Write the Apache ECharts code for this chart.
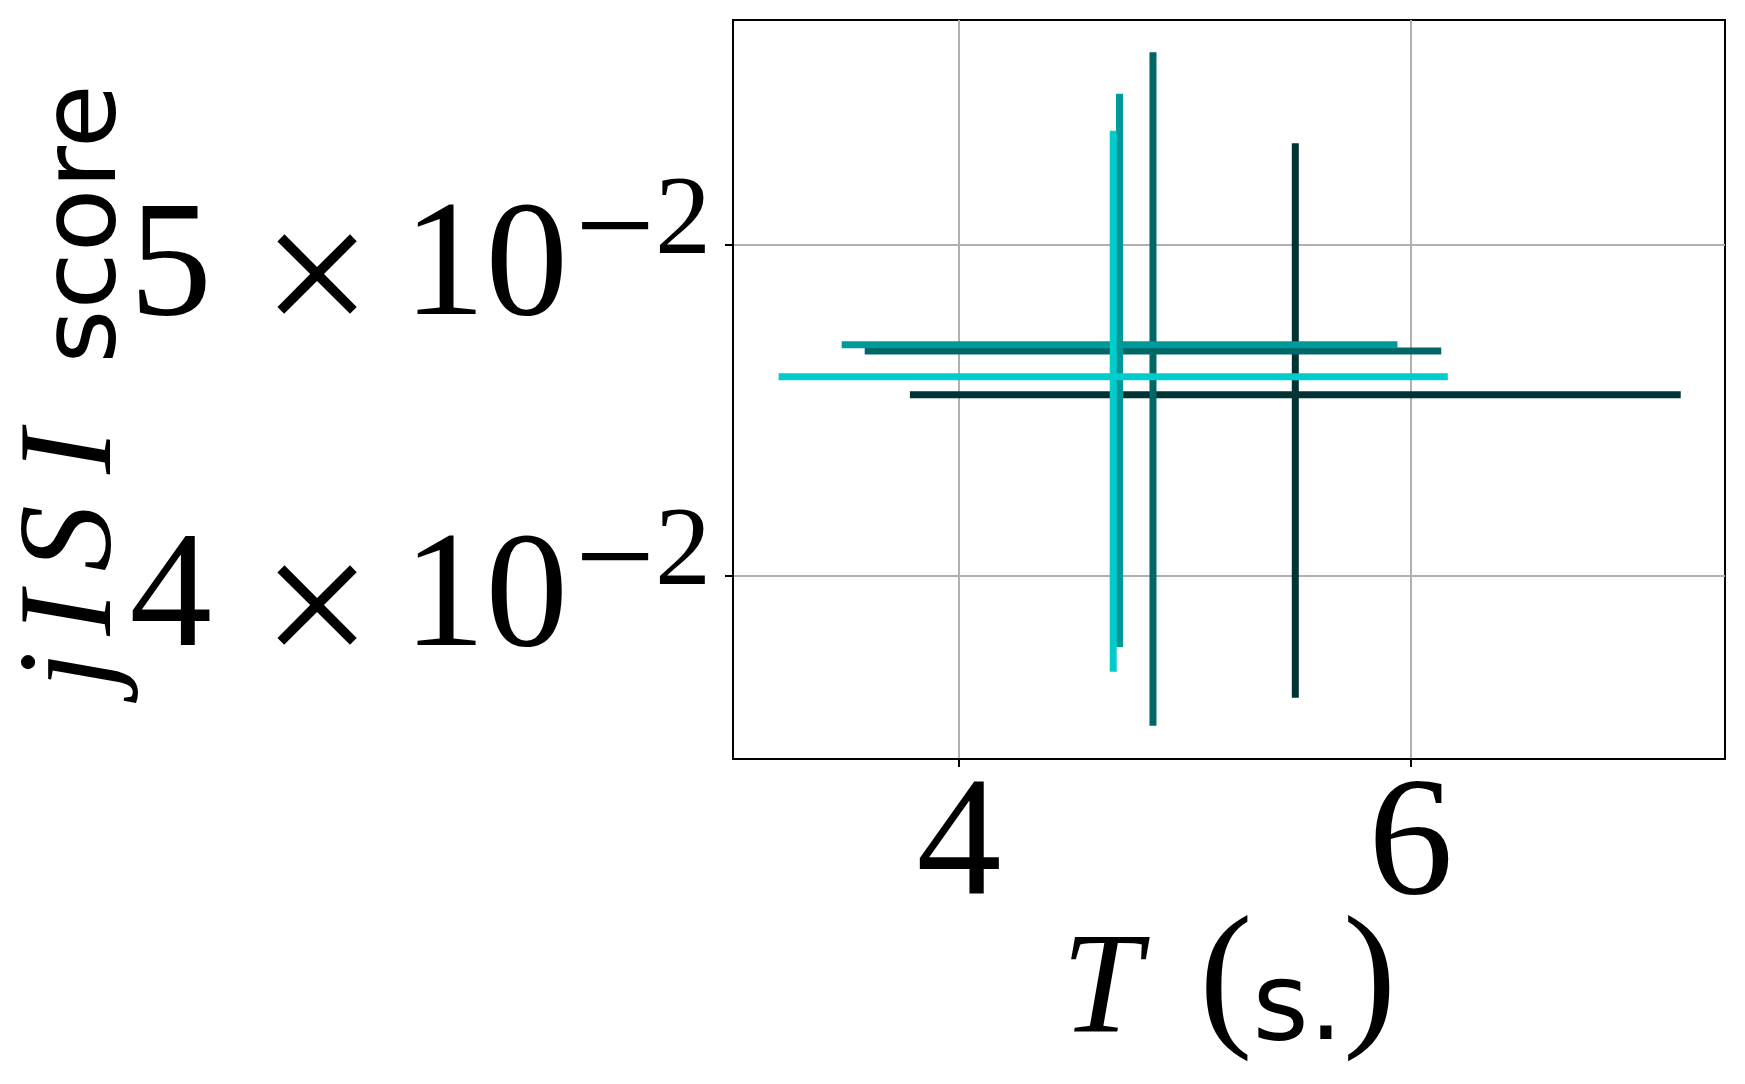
<!DOCTYPE html>
<html><head><meta charset="utf-8">
<script src="https://cdn.jsdelivr.net/npm/echarts@6/dist/echarts.min.js"></script>
<style>html,body{margin:0;padding:0;background:#fff}#c{width:1745px;height:1084px}</style>
</head><body><div id="c"></div>
<script>
// ---- data ----
const seriesNames = ['run 1', 'run 2', 'run 3', 'run 4'];
const seriesColors = ['#003333', '#006666', '#009999', '#00cccc'];
const tMeans = [5.489, 4.859, 4.711, 4.683];       // T (s.)
const tErrs = [1.706, 1.276, 1.230, 1.481];
const scoreMeans = [0.04518, 0.04653, 0.04673, 0.04573]; // jISI score
const scoreErrs = [0.00835, 0.01039, 0.00862, 0.00825];
const xTicks = [4, 6];
const yTicks = [0.04, 0.05];
const xLimits = [3.0, 7.391];
const yLimits = [0.03534, 0.05817];

const log10 = Math.log10;

function renderErr(params, api) {
  const x = api.value(0), xe = api.value(2), y = api.value(3), ye = api.value(4);
  const color = api.visual('color');
  const ly = log10(y);
  const h1 = api.coord([x - xe, ly]), h2 = api.coord([x + xe, ly]);
  const v1 = api.coord([x, log10(y - ye)]), v2 = api.coord([x, log10(y + ye)]);
  const style = { stroke: color, lineWidth: 7, lineCap: 'butt' };
  return {
    type: 'group',
    children: [
      { type: 'line', shape: { x1: h1[0], y1: h1[1], x2: h2[0], y2: h2[1] }, style: style },
      { type: 'line', shape: { x1: v1[0], y1: v1[1], x2: v2[0], y2: v2[1] }, style: style }
    ]
  };
}

const series = seriesNames.map((name, i) => ({
  name: name,
  type: 'custom',
  renderItem: renderErr,
  itemStyle: { color: seriesColors[i] },
  encode: { x: 0, y: 1 },
  data: [[tMeans[i], log10(scoreMeans[i]), tErrs[i], scoreMeans[i], scoreErrs[i]]],
  silent: true
}));

const serif = '"Liberation Serif", "Times New Roman", Times, serif';
const sans = '"DejaVu Sans", sans-serif';

function yLabel(v) {
  const val = Math.pow(10, v);
  const exp = Math.floor(log10(val) + 1e-9);
  const man = Math.round(val / Math.pow(10, exp));
  return '{a|' + man + '}{x|\u00d7}{b|10}' + (exp < 0 ? '{m|\u2212}' : '') + '{e|' + Math.abs(exp) + '}';
}

const ySerif = (pad) => ({ fontFamily: serif, fontStyle: 'italic', fontSize: 133, lineHeight: 134, verticalAlign: 'bottom', padding: pad, color: '#000' });

const chart = echarts.init(document.getElementById('c'), null, { renderer: 'canvas' });
chart.setOption({
  animation: false,
  backgroundColor: '#ffffff',
  grid: {
    left: 733, top: 20, right: 20, bottom: 325,
    show: true, borderColor: '#000', borderWidth: 2, backgroundColor: 'transparent',
    containLabel: false, outerBoundsMode: 'none'
  },
  xAxis: {
    type: 'value',
    min: xLimits[0], max: xLimits[1],
    name: '{t|T}{p|(}{s|s.}{p|)}',
    nameLocation: 'middle',
    nameGap: 146,
    nameMoveOverlap: false,
    nameTextStyle: {
      color: '#000',
      rich: {
        t: { fontFamily: serif, fontStyle: 'italic', fontSize: 143, lineHeight: 145, verticalAlign: 'bottom', padding: [0, 58, 0, 0], color: '#000' },
        p: { fontFamily: serif, fontSize: 160, lineHeight: 160, verticalAlign: 'bottom', color: '#000' },
        s: { fontFamily: sans, fontSize: 108, lineHeight: 124, verticalAlign: 'bottom', color: '#000' }
      }
    },
    axisLine: { show: true, onZero: false, lineStyle: { color: '#000', width: 2 } },
    axisTick: { show: true, customValues: xTicks, length: 8, lineStyle: { color: '#000', width: 2 } },
    axisLabel: {
      customValues: xTicks,
      fontFamily: serif, fontSize: 170, lineHeight: 150, margin: 14, color: '#000',
      formatter: v => String(v)
    },
    splitLine: { show: true, lineStyle: { color: '#b0b0b0', width: 2 } }
  },
  yAxis: {
    type: 'value',
    min: log10(yLimits[0]), max: log10(yLimits[1]),
    name: '{j|j}{i1|I}{sS|S}{i2|I}{sc|score}',
    nameLocation: 'middle',
    nameRotate: 90,
    nameGap: 591,
    nameMoveOverlap: false,
    nameTextStyle: {
      color: '#000',
      rich: {
        j: ySerif([0, 16, 0, 6]),
        i1: ySerif([0, 20, 0, 0]),
        sS: ySerif([0, 31, 0, 0]),
        i2: ySerif([0, 66, 0, 0]),
        sc: { fontFamily: sans, fontSize: 104, height: 108, lineHeight: 126, verticalAlign: 'bottom', color: '#000' }
      }
    },
    axisLine: { show: true, onZero: false, lineStyle: { color: '#000', width: 2 } },
    axisTick: { show: true, customValues: yTicks.map(log10), length: 8, lineStyle: { color: '#000', width: 2 } },
    axisLabel: {
      customValues: yTicks.map(log10),
      margin: 22,
      color: '#000',
      padding: [52, 0, 0, 0],
      formatter: yLabel,
      rich: {
        a: { fontFamily: serif, fontSize: 165, lineHeight: 165, color: '#000' },
        x: { fontFamily: serif, fontSize: 195, height: 131, lineHeight: 149, verticalAlign: 'bottom', padding: [0, 31, 0, 50], color: '#000' },
        b: { fontFamily: serif, fontSize: 165, lineHeight: 165, padding: [0, 7, 0, 0], color: '#000' },
        m: { fontFamily: serif, fontSize: 142, height: 95, lineHeight: 38, verticalAlign: 'top', color: '#000' },
        e: { fontFamily: serif, fontSize: 112, height: 71, lineHeight: 26, verticalAlign: 'top', color: '#000' }
      }
    },
    splitLine: { show: true, lineStyle: { color: '#b0b0b0', width: 2 } }
  },
  series: series
});
</script>
</body></html>
